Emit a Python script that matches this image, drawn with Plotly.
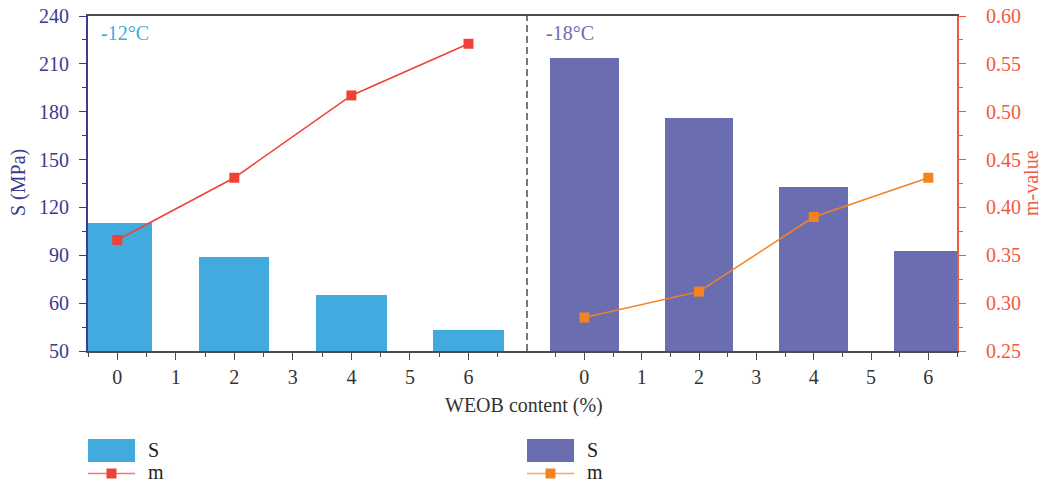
import plotly.graph_objects as go

# WEOB content (%) for each temperature group
weob = [0, 2, 4, 6]

# Low-temperature flexural strength S (MPa)
s_minus12 = [110.0, 88.7, 65.0, 43.0]
s_minus18 = [213.8, 176.2, 132.5, 92.5]

# m-value
m_minus12 = [0.366, 0.431, 0.517, 0.571]
m_minus18 = [0.285, 0.312, 0.390, 0.431]

# Left axis ticks (bottom label as printed on the axis)
s_tickvals = [30, 60, 90, 120, 150, 180, 210, 240]
s_ticktext = ["50", "60", "90", "120", "150", "180", "210", "240"]
m_tickvals = [0.25, 0.30, 0.35, 0.40, 0.45, 0.50, 0.55, 0.60]
x_tickvals = [0, 1, 2, 3, 4, 5, 6]

BLUE = "#41abe0"
PURPLE = "#6a6eb0"
RED = "#ef4136"
ORANGE = "#f58220"
NAVY = "#3b3b90"
AXRED = "#f05a40"
GRAY = "#4d4d4d"
FONT = "Liberation Serif"
FS = 20

W, H = 1044, 487
L, R, T, B = 88, 87, 16, 136
PW, PH = W - L - R, H - T - B
split = (527 - L) / PW  # boundary between the two temperature panels


def px(x):
    return (x - L) / PW


def py(y):
    return (H - B - y) / PH


fig = go.Figure()

fig.add_trace(go.Bar(x=weob, y=s_minus12, width=1.2, marker=dict(color=BLUE, line=dict(width=0)),
                     xaxis="x", yaxis="y", showlegend=False, name="S"))
fig.add_trace(go.Bar(x=weob, y=s_minus18, width=1.2, marker=dict(color=PURPLE, line=dict(width=0)),
                     xaxis="x2", yaxis="y", showlegend=False, name="S"))
fig.add_trace(go.Scatter(x=weob, y=m_minus12, mode="lines+markers", xaxis="x", yaxis="y2",
                         line=dict(color=RED, width=1.5),
                         marker=dict(symbol="square", size=10, color=RED),
                         showlegend=False, name="m"))
fig.add_trace(go.Scatter(x=weob, y=m_minus18, mode="lines+markers", xaxis="x2", yaxis="y2",
                         line=dict(color=ORANGE, width=1.5),
                         marker=dict(symbol="square", size=10, color=ORANGE),
                         showlegend=False, name="m"))

xcommon = dict(
    tickvals=x_tickvals, ticks="outside", ticklen=7, tickwidth=1.3, tickcolor=GRAY,
    showline=True, linecolor=GRAY, linewidth=1.5, mirror=True,
    showgrid=False, zeroline=False, automargin=False,
    tickfont=dict(family=FONT, size=FS, color="#333333"),
    anchor="y",
)
minor_x = dict(tickvals=[v + 0.5 for v in [-1] + x_tickvals], ticklen=4, tickwidth=1.2,
               tickcolor=GRAY, ticks="outside")

fig.update_layout(
    width=W, height=H,
    margin=dict(l=L, r=R, t=T, b=B, pad=0),
    plot_bgcolor="white", paper_bgcolor="white",
    font=dict(family=FONT, size=FS),
    bargap=0,
    xaxis=dict(domain=[0, split], range=[-0.5, 7], minor=minor_x, **xcommon),
    xaxis2=dict(domain=[split, 1], range=[-1, 6.5], minor=minor_x, **xcommon),
    yaxis=dict(
        range=[30, 240], tickvals=s_tickvals, ticktext=s_ticktext,
        ticks="outside", ticklen=7, tickwidth=1.3, tickcolor=NAVY,
        minor=dict(tickvals=[45, 75, 105, 135, 165, 195, 225], ticklen=4, tickwidth=1.2,
                   tickcolor=NAVY, ticks="outside"),
        showline=True, linecolor=NAVY, linewidth=2, showgrid=False, zeroline=False,
        automargin=False, ticklabelstandoff=6,
        tickfont=dict(family=FONT, size=FS, color=NAVY),
        anchor="x", side="left",
    ),
    yaxis2=dict(
        range=[0.25, 0.60], tickvals=m_tickvals, tickformat=".2f",
        ticks="outside", ticklen=7, tickwidth=1.3, tickcolor=AXRED,
        minor=dict(tickvals=[0.275, 0.325, 0.375, 0.425, 0.475, 0.525, 0.575], ticklen=4,
                   tickwidth=1.2, tickcolor=AXRED, ticks="outside"),
        showline=True, linecolor=AXRED, linewidth=2, showgrid=False, zeroline=False,
        automargin=False, ticklabelstandoff=16,
        tickfont=dict(family=FONT, size=FS, color=AXRED),
        overlaying="y", anchor="x2", side="right",
    ),
)

# Panel divider
fig.add_shape(type="line", xref="paper", yref="paper", x0=split, x1=split, y0=0, y1=1,
              line=dict(color=GRAY, width=1.5, dash="7px,4px"))

# Axis titles
fig.add_annotation(text="S (MPa)", xref="paper", yref="paper", x=px(18), y=py(183),
                   xanchor="center", yanchor="middle", textangle=-90, showarrow=False,
                   font=dict(family=FONT, size=FS, color=NAVY))
fig.add_annotation(text="m-value", xref="paper", yref="paper", x=px(1031), y=py(183),
                   xanchor="center", yanchor="middle", textangle=-90, showarrow=False,
                   font=dict(family=FONT, size=FS, color=AXRED))
fig.add_annotation(text="WEOB content (%)", xref="paper", yref="paper", x=px(524), y=py(405),
                   xanchor="center", yanchor="middle", showarrow=False,
                   font=dict(family=FONT, size=FS, color="#333333"))

# Panel labels
fig.add_annotation(text="-12°C", xref="paper", yref="paper", x=px(99), y=py(33),
                   xanchor="left", yanchor="middle", showarrow=False,
                   font=dict(family=FONT, size=FS, color=BLUE))
fig.add_annotation(text="-18°C", xref="paper", yref="paper", x=px(544), y=py(33),
                   xanchor="left", yanchor="middle", showarrow=False,
                   font=dict(family=FONT, size=FS, color=PURPLE))

# Legend blocks, one per temperature group
for x0, bar_color, line_color in [(88, BLUE, RED), (527, PURPLE, ORANGE)]:
    fig.add_shape(type="rect", xref="paper", yref="paper",
                  x0=px(x0), x1=px(x0 + 47), y0=py(462), y1=py(439),
                  fillcolor=bar_color, line=dict(width=0))
    fig.add_shape(type="line", xref="paper", yref="paper",
                  x0=px(x0), x1=px(x0 + 47), y0=py(473.5), y1=py(473.5),
                  line=dict(color=line_color, width=1.5), opacity=0.7)
    fig.add_shape(type="rect", xref="paper", yref="paper",
                  x0=px(x0 + 18.5), x1=px(x0 + 28.5), y0=py(478.5), y1=py(468.5),
                  fillcolor=line_color, line=dict(width=0))
    fig.add_annotation(text="S", xref="paper", yref="paper", x=px(x0 + 58), y=py(450),
                       xanchor="left", yanchor="middle", showarrow=False,
                       font=dict(family=FONT, size=FS, color="#222222"))
    fig.add_annotation(text="m", xref="paper", yref="paper", x=px(x0 + 58), y=py(472),
                       xanchor="left", yanchor="middle", showarrow=False,
                       font=dict(family=FONT, size=FS, color="#222222"))

fig.write_html("out.html")
